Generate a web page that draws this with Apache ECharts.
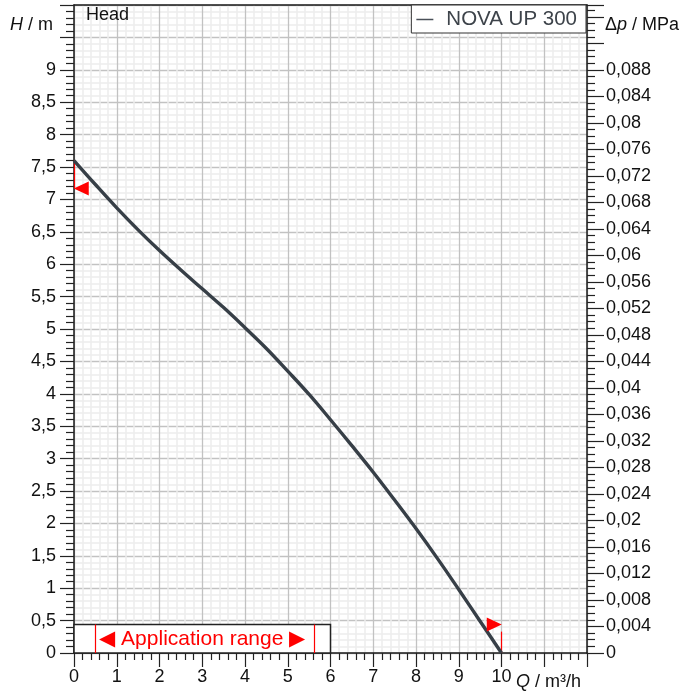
<!DOCTYPE html>
<html>
<head>
<meta charset="utf-8">
<script src="https://cdn.jsdelivr.net/npm/echarts@6/dist/echarts.min.js"></script>
<style>
html,body{margin:0;padding:0;background:#fff;}
#chart{width:694px;height:692px;}
</style>
</head>
<body>
<div id="chart"></div>
<script>
// ---- data ----
const seriesName = 'NOVA UP 300';
const flowQ = [0, 0.5, 1, 1.5, 2, 2.5, 3, 3.5, 4, 4.5, 5, 5.5, 6, 6.5, 7, 7.5, 8, 8.5, 9, 9.5, 10];
const headH = [7.6, 7.23, 6.87, 6.53, 6.21, 5.91, 5.62, 5.33, 5.02, 4.70, 4.35, 3.99, 3.60, 3.20, 2.79, 2.36, 1.92, 1.46, 0.98, 0.49, 0];
const xRange = [0, 12];
const xMaxLabel = 10;
const hRange = [0, 10];
const hMaxLabel = 9;
const pRange = [0, 0.0978];
const pMaxLabel = 0.088;
const appBox = { q: [0, 6], h: [0, 0.44] };
const appRange = [0.5, 5.62];
const appText = '◀ Application range ▶';
const markerLeft = [0.17, 7.17];
const markerRight = [9.83, 0.44];
const markerLeftLine = [0, 7.17, 7.6];
const markerRightLine = [10, 0, 0.33];

const curve = flowQ.map((q, i) => [q, headH[i]]);
const comma = v => String(parseFloat(v.toFixed(4))).replace('.', ',');

const FONT = 'Liberation Sans, Arial, sans-serif';
const FS = 18;
const chart = echarts.init(document.getElementById('chart'), null, { renderer: 'canvas' });

const tickStyle = { color: '#222', width: 1.2 };
const axisLineStyle = { color: '#1a1a1a', width: 1.5 };

chart.setOption({
  animation: false,
  backgroundColor: '#fff',
  textStyle: { fontFamily: FONT },
  grid: { left: 74, right: 107, top: 5, bottom: 39, outerBoundsMode: 'none', containLabel: false },
  title: {
    text: 'Head', left: 86, top: 6, padding: 0,
    textStyle: { fontFamily: FONT, fontSize: 18, fontWeight: 'normal', color: '#111' }
  },
  legend: {
    data: [seriesName], right: 108, top: 5,
    backgroundColor: '#fff', borderColor: '#333', borderWidth: 1,
    padding: [4, 9, 3, 5],
    icon: 'rect', itemWidth: 17, itemHeight: 1.5,
    itemStyle: { color: '#4a5058' },
    textStyle: { fontFamily: FONT, fontSize: 20.5, color: '#3d434a', padding: [0, 0, 0, 8] }
  },
  xAxis: [{
    type: 'value', min: xRange[0], max: xRange[1], interval: 1,
    axisLine: { show: true, onZero: false, lineStyle: axisLineStyle },
    axisTick: { show: true, length: 14, lineStyle: tickStyle },
    minorTick: { show: true, splitNumber: 5, length: 7, lineStyle: tickStyle },
    splitLine: { show: true, lineStyle: { color: '#c2c2c2', width: 1.3 } },
    minorSplitLine: { show: true, lineStyle: { color: '#ededed', width: 1.5 } },
    axisLabel: {
      margin: 15, fontSize: FS, color: '#111', fontFamily: FONT,
      formatter: v => (v <= xMaxLabel ? comma(v) : '')
    }
  }, {
    type: 'value', position: 'top', min: xRange[0], max: xRange[1],
    axisLine: { show: true, onZero: false, lineStyle: axisLineStyle },
    axisTick: { show: false }, axisLabel: { show: false }, splitLine: { show: false }
  }],
  yAxis: [{
    type: 'value', position: 'left', min: hRange[0], max: hRange[1], interval: 0.5,
    axisLine: { show: true, onZero: false, lineStyle: axisLineStyle },
    axisTick: { show: true, length: 14, lineStyle: tickStyle },
    minorTick: { show: true, splitNumber: 5, length: 8, lineStyle: tickStyle },
    splitLine: { show: true, lineStyle: { color: '#c2c2c2', width: 1.3 } },
    minorSplitLine: { show: true, lineStyle: { color: '#ededed', width: 1.5 } },
    axisLabel: {
      margin: 18, fontSize: FS, color: '#111', fontFamily: FONT,
      formatter: v => (v <= hMaxLabel + 1e-9 ? comma(v) : '')
    }
  }, {
    type: 'value', position: 'right', min: pRange[0], max: pRange[1], interval: 0.004,
    axisLine: { show: true, onZero: false, lineStyle: axisLineStyle },
    axisTick: { show: true, length: 17, lineStyle: tickStyle },
    minorTick: { show: true, splitNumber: 4, length: 8, lineStyle: tickStyle },
    splitLine: { show: false }, minorSplitLine: { show: false },
    axisLabel: {
      margin: 19, fontSize: FS, color: '#111', fontFamily: FONT,
      formatter: v => (v <= pMaxLabel + 1e-9 ? comma(v) : '')
    }
  }],
  graphic: [
    { type: 'text', x: 53, y: 25, silent: true,
      style: { text: '{i|H} / m', align: 'right', verticalAlign: 'middle',
        font: FS + 'px ' + FONT, fill: '#111',
        rich: { i: { fontStyle: 'italic', fontSize: FS, fontFamily: FONT, fill: '#111' } } } },
    { type: 'text', x: 605, y: 25, silent: true,
      style: { text: 'Δ{i|p} / MPa', align: 'left', verticalAlign: 'middle',
        font: FS + 'px ' + FONT, fill: '#111',
        rich: { i: { fontStyle: 'italic', fontSize: FS, fontFamily: FONT, fill: '#111' } } } },
    { type: 'text', x: 516, y: 682, silent: true,
      style: { text: '{i|Q} / m³/h', align: 'left', verticalAlign: 'middle',
        font: FS + 'px ' + FONT, fill: '#111',
        rich: { i: { fontStyle: 'italic', fontSize: FS, fontFamily: FONT, fill: '#111' } } } }
  ],
  series: [{
    name: seriesName, type: 'line', xAxisIndex: 0, yAxisIndex: 0,
    data: curve, smooth: 0.4, symbol: 'none', z: 5,
    lineStyle: { color: '#373f47', width: 3.4 },
    itemStyle: { color: '#4a5058' }
  }, {
    name: 'markers', type: 'scatter', xAxisIndex: 0, yAxisIndex: 0, z: 6,
    symbol: 'triangle', symbolSize: [14, 15],
    itemStyle: { color: '#ff0000', opacity: 1 },
    data: [
      { value: markerLeft, symbolRotate: 90 },
      { value: markerRight, symbolRotate: -90 }
    ],
    markArea: {
      silent: true,
      itemStyle: { color: '#ffffff', borderColor: '#222', borderWidth: 1.5, opacity: 1 },
      label: { show: true, position: 'inside', color: '#ff0000', fontSize: 21, fontFamily: FONT },
      data: [[
        { name: appText, coord: [appBox.q[0], appBox.h[0]] },
        { coord: [appBox.q[1], appBox.h[1]] }
      ]]
    },
    markLine: {
      silent: true, symbol: ['none', 'none'], label: { show: false },
      lineStyle: { color: '#ff0000', width: 1.2, type: 'solid' },
      data: [
        [{ coord: [appRange[0], appBox.h[0]] }, { coord: [appRange[0], appBox.h[1]] }],
        [{ coord: [appRange[1], appBox.h[0]] }, { coord: [appRange[1], appBox.h[1]] }],
        [{ coord: [markerLeftLine[0], markerLeftLine[1]] }, { coord: [markerLeftLine[0], markerLeftLine[2]] }],
        [{ coord: [markerRightLine[0], markerRightLine[1]] }, { coord: [markerRightLine[0], markerRightLine[2]] }]
      ]
    }
  }]
});
</script>
</body>
</html>
